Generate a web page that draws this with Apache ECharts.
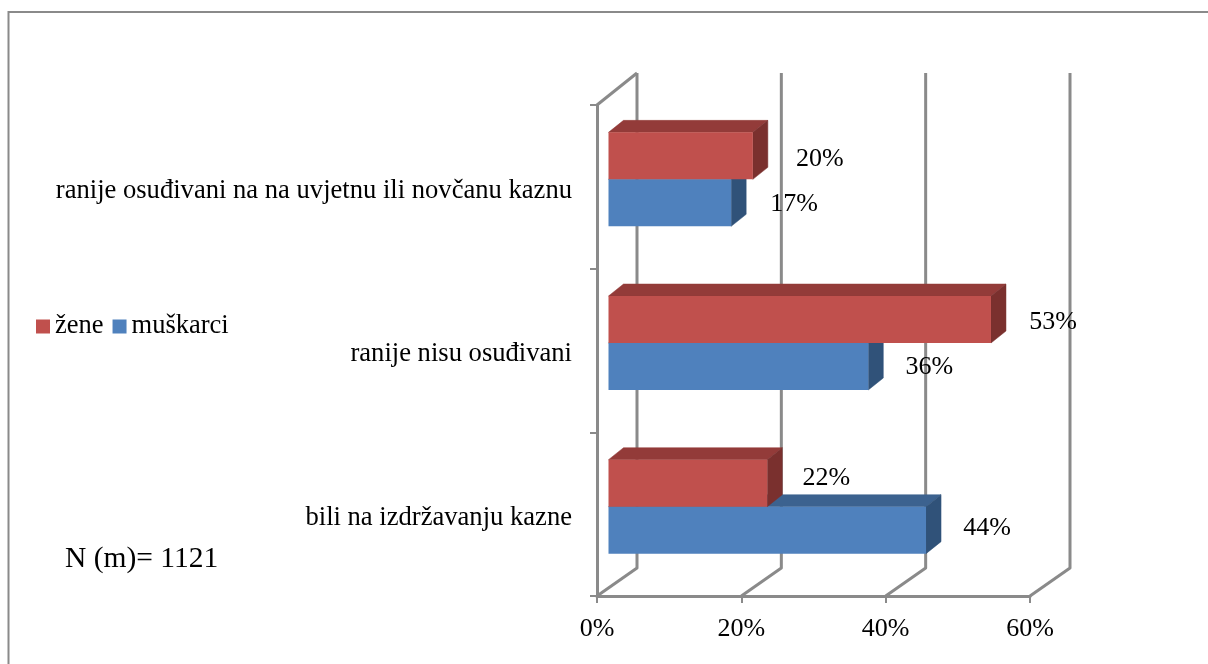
<!DOCTYPE html>
<html><head><meta charset="utf-8">
<style>html,body{margin:0;padding:0;background:#fff}#c{width:1208px;height:664px}</style>
<script src="https://cdn.jsdelivr.net/npm/echarts@6/dist/echarts.min.js"></script>
</head><body><div id="c"></div>
<script>
const categories = ['bili na izdržavanju kazne', 'ranije nisu osuđivani', 'ranije osuđivani na na uvjetnu ili novčanu kaznu'];
const muskarci = [44, 36, 17];
const zene = [22, 53, 20];
const xTicks = [0, 20, 40, 60];
const noteText = 'N (m)= 1121';

const FONT = '"Liberation Serif","Times New Roman",serif';
const GRAY = '#8a8a8a';
const AXIS_W = 3;
const WALL_DX = 40, WALL_DY = 28, TOP_DY = 32;
const BAR_INSET = 11.5, DEPTH_X = 15, DEPTH_Y = 12;
const BAND_SHIFT = -7.5, BAR_RATIO = 0.287;
const LABEL_FS = 26;

// small per-label hand offsets (series, category) → [dx, dy] from the default spot
const nudge = {
  'žene0': [-2, -6], 'žene1': [1, 2], 'žene2': [6, 2], 'muškarci0': [0, -3], 'muškarci2': [2, 0]
};

function poly(points, fill) {
  return { type: 'polygon', shape: { points }, style: { fill, stroke: fill, lineWidth: 0.5 } };
}
function barSeries(name, values, lower, face, top, side) {
  return {
    name, type: 'custom', coordinateSystem: 'cartesian2d', z: lower ? 5 : 6,
    itemStyle: { color: face },
    data: values.map((v, i) => [v, i]),
    encode: { x: 0, y: 1 },
    renderItem(params, api) {
      const v = api.value(0), c = api.value(1);
      const zero = api.coord([0, c]), end = api.coord([v, c]);
      const band = api.size([0, 1])[1];
      const h = band * BAR_RATIO;
      const x0 = zero[0] + BAR_INSET, x1 = end[0] + BAR_INSET;
      const mid = zero[1] + BAND_SHIFT;
      const yT = lower ? mid : mid - h, yB = lower ? mid + h : mid;
      return { type: 'group', children: [
        poly([[x0, yT], [x0 + DEPTH_X, yT - DEPTH_Y], [x1 + DEPTH_X, yT - DEPTH_Y], [x1, yT]], top),
        poly([[x1, yT], [x1 + DEPTH_X, yT - DEPTH_Y], [x1 + DEPTH_X, yB - DEPTH_Y], [x1, yB]], side),
        { type: 'rect', shape: { x: x0, y: yT, width: x1 - x0, height: yB - yT }, style: { fill: face } }
      ] };
    }
  };
}
function labelSeries(name, values, lower) {
  return {
    type: 'custom', coordinateSystem: 'cartesian2d', z: 9, silent: true,
    data: values.map((v, i) => [v, i]),
    encode: { x: 0, y: 1 },
    renderItem(params, api) {
      const v = api.value(0), c = api.value(1);
      const zero = api.coord([0, c]), end = api.coord([v, c]);
      const h = api.size([0, 1])[1] * BAR_RATIO;
      const mid = zero[1] + BAND_SHIFT;
      const yC = lower ? mid + h / 2 : mid - h / 2;
      const n = nudge[name + c] || [0, 0];
      return { type: 'text', style: {
        text: v + '%', x: end[0] + BAR_INSET + 61 + n[0], y: yC + 1 + n[1],
        font: LABEL_FS + 'px ' + FONT, fill: '#000', align: 'center', verticalAlign: 'middle'
      } };
    }
  };
}
const wallSeries = {
  type: 'custom', coordinateSystem: 'cartesian2d', z: 1, silent: true,
  data: xTicks.map(t => [t, 0]),
  encode: { x: 0, y: 1 },
  renderItem(params, api) {
    const t = api.value(0), cs = params.coordSys;
    const x = api.coord([t, 0])[0];
    const bottom = cs.y + cs.height, top = cs.y;
    const lineStyle = { stroke: GRAY, lineWidth: AXIS_W, fill: 'none', lineJoin: 'round' };
    const pts = [[x, bottom], [x + WALL_DX, bottom - WALL_DY], [x + WALL_DX, top - TOP_DY]];
    const children = [{ type: 'polyline', shape: { points: pts }, style: lineStyle }];
    if (t === 0) children.push({ type: 'line', shape: { x1: x, y1: top, x2: x + WALL_DX, y2: top - TOP_DY }, style: lineStyle });
    return { type: 'group', children };
  }
};

const chart = echarts.init(document.getElementById('c'), null, { renderer: 'canvas' });
chart.setOption({
  animation: false,
  backgroundColor: '#fff',
  title: { text: noteText, left: 60, top: 539, textStyle: { fontFamily: FONT, fontSize: 29.5, fontWeight: 'normal', color: '#000' } },
  legend: {
    left: 31, top: 308, itemWidth: 14, itemHeight: 14, itemGap: 9, icon: 'rect',
    data: ['žene', 'muškarci'],
    textStyle: { fontFamily: FONT, fontSize: 26.5, color: '#000', padding: [0, 0, 0, 0] }
  },
  grid: { left: 597, top: 105, width: 433, height: 491, containLabel: false },
  xAxis: {
    type: 'value', min: 0, max: 60, interval: 20,
    axisLine: { show: true, lineStyle: { color: GRAY, width: AXIS_W } },
    axisTick: { show: true, length: 7, lineStyle: { color: GRAY, width: 2 } },
    splitLine: { show: false },
    axisLabel: { formatter: '{value}%', margin: 20, fontFamily: FONT, fontSize: 26, color: '#000' }
  },
  yAxis: {
    type: 'category', data: categories,
    axisLine: { show: true, lineStyle: { color: GRAY, width: AXIS_W } },
    axisTick: { show: true, length: 7, lineStyle: { color: GRAY, width: 2 } },
    axisLabel: {
      margin: 25, fontFamily: FONT, fontSize: 26.6, color: '#000', interval: 0,
      formatter: v => '{a|' + v + '}',
      rich: { a: { fontFamily: FONT, fontSize: 26.6, color: '#000', padding: [8, 0, 0, 0] } }
    }
  },
  graphic: [{
    type: 'polyline', silent: true, z: 0,
    shape: { points: [[8.5, 664], [8.5, 12], [1208, 12]] },
    style: { stroke: GRAY, lineWidth: 2, fill: 'none' }
  }],
  series: [
    wallSeries,
    barSeries('muškarci', muskarci, true, '#4f81bd', '#3c628f', '#305279'),
    barSeries('žene', zene, false, '#c0504d', '#933b39', '#7a302e'),
    labelSeries('muškarci', muskarci, true),
    labelSeries('žene', zene, false)
  ]
});
</script></body></html>
